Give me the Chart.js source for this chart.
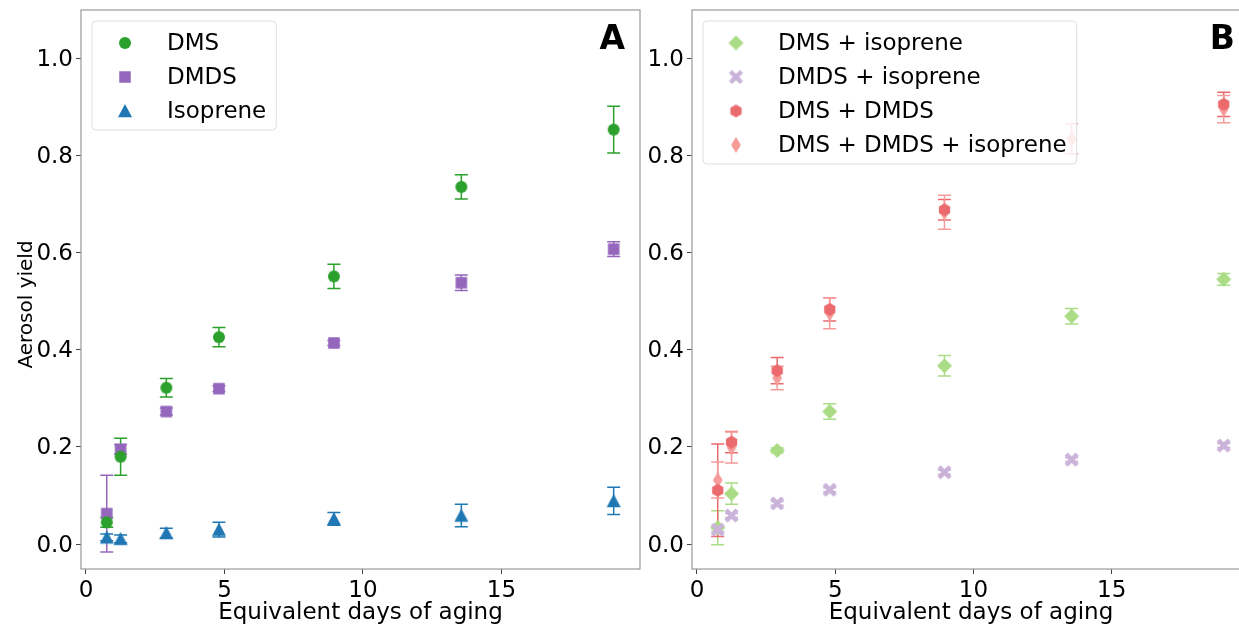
<!DOCTYPE html>
<html><head><meta charset="utf-8">
<script src="https://cdn.jsdelivr.net/npm/chart.js@4.4.0/dist/chart.umd.min.js"></script>
<style>
html,body{margin:0;padding:0;background:#fff;overflow:hidden;width:1239px;height:624px;position:relative;}
#a{position:absolute;left:0;top:0;width:650px;height:624px;}
#b{position:absolute;left:646px;top:0;width:616px;height:624px;}
</style></head><body>
<div id="a"><canvas id="ca"></canvas></div>
<div id="b"><canvas id="cb"></canvas></div>
<script>
// ---- data ----
const days = [0.75, 1.25, 2.9, 4.8, 8.95, 13.55, 19.05];
const xTicks = [0, 5, 10, 15];
const yTicks = [0, 0.2, 0.4, 0.6, 0.8, 1.0];
// Panel A
const dms      = [0.045, 0.180, 0.322, 0.426, 0.551, 0.735, 0.853];
const dmsErr   = [0.010, 0.038, 0.019, 0.020, 0.025, 0.025, 0.048];
const dmds     = [0.063, 0.195, 0.273, 0.320, 0.414, 0.538, 0.607];
const dmdsErr  = [0.079, 0.010, 0.007, 0.006, 0.005, 0.016, 0.015];
const iso      = [0.014, 0.011, 0.023, 0.030, 0.052, 0.059, 0.089];
const isoErr   = [0.007, 0.008, 0.010, 0.015, 0.013, 0.023, 0.028];
// Panel B
const dmsIso        = [0.034, 0.104, 0.193, 0.273, 0.367, 0.469, 0.545];
const dmsIsoErr     = [0.035, 0.022, 0.005, 0.016, 0.021, 0.016, 0.012];
const dmdsIso       = [0.030, 0.059, 0.084, 0.112, 0.148, 0.174, 0.203];
const dmdsIsoErr    = [0.004, 0.004, 0.004, 0.004, 0.004, 0.004, 0.004];
const dmsDmds       = [0.111, 0.210, 0.357, 0.483, 0.688, null, 0.905];
const dmsDmdsErr    = [0.095, 0.022, 0.027, 0.024, 0.021, null, 0.025];
const dmsDmdsIso    = [0.132, 0.199, 0.342, 0.475, 0.683, 0.834, 0.895];
const dmsDmdsIsoErr = [0.037, 0.032, 0.024, 0.032, 0.035, 0.031, 0.028];

const yTitle = 'Aerosol yield';
const xTitle = 'Equivalent days of aging';

const FONT = 'DejaVu Sans';
const FS = 23;

function mk(shape, color, s) {
  const pad = 3;
  const W = Math.ceil(s + pad * 2);
  const c = document.createElement('canvas');
  c.width = W; c.height = W;
  const g = c.getContext('2d');
  g.fillStyle = color;
  g.translate(W / 2, W / 2);
  const h = s / 2;
  g.beginPath();
  if (shape === 'circle') g.arc(0, 0, h, 0, Math.PI * 2);
  else if (shape === 'square') g.rect(-h, -h, s, s);
  else if (shape === 'triangle') { g.moveTo(0, -h); g.lineTo(h, h * 0.9); g.lineTo(-h, h * 0.9); g.closePath(); }
  else if (shape === 'diamond') { g.moveTo(0, -h); g.lineTo(h, 0); g.lineTo(0, h); g.lineTo(-h, 0); g.closePath(); }
  else if (shape === 'thin') { g.moveTo(0, -h); g.lineTo(h * 0.6, 0); g.lineTo(0, h); g.lineTo(-h * 0.6, 0); g.closePath(); }
  else if (shape === 'hex') {
    for (let i = 0; i < 6; i++) {
      const a = (-90 + 60 * i) * Math.PI / 180;
      const px = h * Math.cos(a), py = h * Math.sin(a);
      if (i === 0) g.moveTo(px, py); else g.lineTo(px, py);
    }
    g.closePath();
  } else if (shape === 'x') {
    const w = s * 0.17, L = h * 1.2;
    const pts = [[-w, -L], [w, -L], [w, -w], [L, -w], [L, w], [w, w], [w, L], [-w, L], [-w, w], [-L, w], [-L, -w], [-w, -w]];
    const r = Math.PI / 4;
    pts.forEach((p, i) => {
      const px = p[0] * Math.cos(r) - p[1] * Math.sin(r);
      const py = p[0] * Math.sin(r) + p[1] * Math.cos(r);
      if (i === 0) g.moveTo(px, py); else g.lineTo(px, py);
    });
    g.closePath();
  }
  g.fill();
  return c;
}

function pts(ys) { return days.map((d, i) => ({ x: d, y: ys[i] })); }

function ds(label, ys, errs, color, shape, size, order) {
  return {
    label, data: pts(ys), errors: errs, errColor: color,
    pointStyle: mk(shape, color, size), legendImg: mk(shape, color, size),
    showLine: false, order: order || 0
  };
}

const errorBars = {
  id: 'errorBars',
  beforeDatasetsDraw(chart) {
    const { ctx, scales: { x, y } } = chart;
    ctx.save();
    ctx.lineWidth = 1.5;
    chart.data.datasets.forEach(d => {
      ctx.strokeStyle = d.errColor;
      d.data.forEach((p, i) => {
        const e = d.errors[i];
        if (p.y == null || e == null) return;
        const px = x.getPixelForValue(p.x);
        const y1 = y.getPixelForValue(p.y + e), y2 = y.getPixelForValue(p.y - e);
        ctx.beginPath();
        ctx.moveTo(px, y1); ctx.lineTo(px, y2);
        ctx.moveTo(px - 6.5, y1); ctx.lineTo(px + 6.5, y1);
        ctx.moveTo(px - 6.5, y2); ctx.lineTo(px + 6.5, y2);
        ctx.stroke();
      });
    });
    ctx.restore();
  }
};

function decor(letter, showYTitle) {
  return {
    id: 'decor',
    afterDraw(chart) {
      const { ctx, chartArea: ca } = chart;
      ctx.save();
      // frame
      ctx.strokeStyle = '#999';
      ctx.lineWidth = 1.2;
      ctx.strokeRect(ca.left, ca.top, ca.right - ca.left, ca.bottom - ca.top);
      // y axis title
      if (showYTitle) {
        ctx.save();
        ctx.font = '20px "' + FONT + '"';
        ctx.fillStyle = '#000';
        ctx.textAlign = 'center';
        ctx.textBaseline = 'middle';
        ctx.translate(27, (ca.top + ca.bottom) / 2 + 15);
        ctx.rotate(-Math.PI / 2);
        ctx.fillText(yTitle, 0, 0);
        ctx.restore();
      }
      // legend
      ctx.font = FS + 'px "' + FONT + '"';
      const items = chart.data.datasets.slice().sort((a, b) => a.legendIndex - b.legendIndex);
      let maxW = 0;
      items.forEach(d => { maxW = Math.max(maxW, ctx.measureText(d.label).width); });
      const x0 = ca.left + 11, y0 = ca.top + 11, rowH = 34;
      const w = 75 + maxW + 10, h = items.length * rowH + 7;
      ctx.beginPath();
      ctx.roundRect(x0, y0, w, h, 4);
      ctx.fillStyle = 'rgba(255,255,255,0.8)';
      ctx.fill();
      ctx.strokeStyle = '#dddddd';
      ctx.lineWidth = 1;
      ctx.stroke();
      ctx.textBaseline = 'middle';
      ctx.textAlign = 'left';
      ctx.fillStyle = '#000';
      items.forEach((d, i) => {
        const cy = y0 + 5 + rowH / 2 + i * rowH;
        const img = d.legendImg;
        ctx.drawImage(img, x0 + 33 - img.width / 2, cy - img.height / 2);
        ctx.fillText(d.label, x0 + 75, cy + 1);
      });
      // panel letter
      ctx.font = 'bold 33px "' + FONT + '"';
      ctx.textAlign = 'right';
      ctx.textBaseline = 'alphabetic';
      ctx.fillText(letter, ca.right - 15, ca.top + 39);
      ctx.restore();
    }
  };
}

function scalesFor(yWidth) {
  const tickFont = { family: FONT, size: FS };
  return {
    x: {
      type: 'linear', min: -0.18, max: 20.0,
      afterBuildTicks: s => { s.ticks = xTicks.map(v => ({ value: v })); },
      afterFit: s => { s.height = 55; s.paddingLeft = 0; s.paddingRight = 0; },
      grid: { display: true, drawOnChartArea: false, drawTicks: true, tickLength: 5, color: '#444', tickColor: '#444' },
      border: { display: false },
      ticks: { color: '#000', font: tickFont, padding: 3, maxRotation: 0, autoSkip: false, callback: v => String(v) },
      title: { display: true, text: xTitle, color: '#000', font: tickFont, padding: { top: 0, bottom: -3 } }
    },
    y: {
      type: 'linear', min: -0.051, max: 1.099,
      afterBuildTicks: s => { s.ticks = yTicks.map(v => ({ value: v })); },
      afterFit: s => { s.width = yWidth; s.paddingTop = 0; s.paddingBottom = 0; },
      grid: { display: true, drawOnChartArea: false, drawTicks: true, tickLength: 5, color: '#444', tickColor: '#444' },
      border: { display: false },
      ticks: { color: '#000', font: tickFont, padding: 3, autoSkip: false, labelOffset: 1.5, callback: v => v.toFixed(1) },
      title: { display: false }
    }
  };
}

function baseOptions(yWidth, padRight) {
  return {
    responsive: true, maintainAspectRatio: false, animation: false, events: [],
    layout: { padding: { left: 0, right: padRight, top: 10, bottom: 0 } },
    plugins: { legend: { display: false }, tooltip: { enabled: false } },
    scales: scalesFor(yWidth)
  };
}

// Panel A
const aSets = [
  ds('DMS', dms, dmsErr, '#2ca02c', 'circle', 12, 0),
  ds('DMDS', dmds, dmdsErr, '#9467bd', 'square', 11.5, 1),
  ds('Isoprene', iso, isoErr, '#1f77b4', 'triangle', 14, 2)
];
aSets.forEach((d, i) => d.legendIndex = i);
new Chart(document.getElementById('ca'), {
  type: 'scatter',
  data: { datasets: aSets },
  options: baseOptions(81, 10),
  plugins: [errorBars, decor('A', true)]
});

// Panel B
const bSets = [
  ds('DMS + isoprene', dmsIso, dmsIsoErr, '#a9dc85', 'diamond', 15, 2),
  ds('DMDS + isoprene', dmdsIso, dmdsIsoErr, '#cab2d8', 'x', 13, 1),
  ds('DMS + DMDS', dmsDmds, dmsDmdsErr, '#eb6a6d', 'hex', 13, 3),
  ds('DMS + DMDS + isoprene', dmsDmdsIso, dmsDmdsIsoErr, '#f79a9a', 'thin', 16, 4)
];
bSets.forEach((d, i) => d.legendIndex = i);
new Chart(document.getElementById('cb'), {
  type: 'scatter',
  data: { datasets: bSets },
  options: baseOptions(46, 12),
  plugins: [errorBars, decor('B', false)]
});
</script>
</body></html>
